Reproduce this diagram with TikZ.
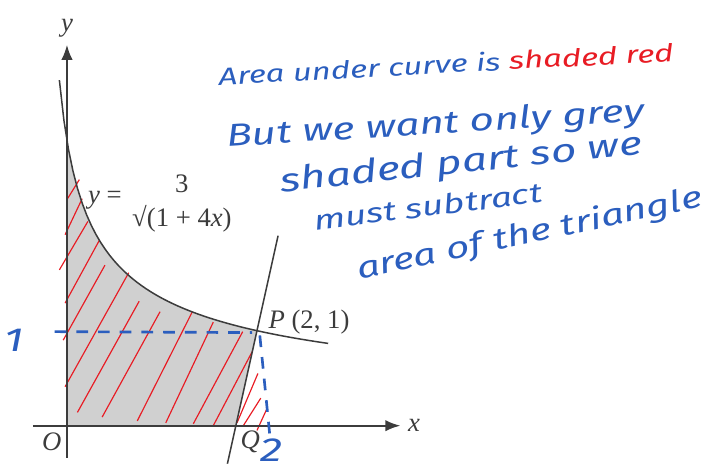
\documentclass[tikz,border=0pt]{standalone}
\usepackage{fontspec}
\setmainfont{Liberation Serif}
\newfontfamily\handfont{Fira Sans}[FakeStretch=1.35]
\usetikzlibrary{arrows.meta, positioning, calc}

\definecolor{handblue}{RGB}{43,94,190}
\definecolor{handred}{RGB}{232,28,36}
\definecolor{axisgray}{RGB}{60,60,60}
\definecolor{areagray}{RGB}{208,208,208}

\begin{document}
\begin{tikzpicture}[
    axis/.style={draw=axisgray, line width=0.6pt, -{Latex[length=4.5pt, width=3.4pt]}},
    curve/.style={draw=axisgray, line width=0.45pt},
    hatch/.style={draw=handred, line width=0.35pt},
    guide/.style={draw=handblue, line width=0.8pt, dash pattern=on 3.5pt off 3pt},
    hand/.style={text=handblue, font=\handfont\itshape, inner sep=0pt},
    label text/.style={font=\fontsize{8}{9}\selectfont, text=axisgray, inner sep=1pt}
]
\useasboundingbox (-0.705,-0.508) rectangle (6.674,4.481);

% ====================
% Punti principali
% ====================
\coordinate (O) at (0,0);
\coordinate (Xs) at (-0.36,0);
\coordinate (Xe) at (3.51,0);
\coordinate (Ys) at (0,-0.34);
\coordinate (Ye) at (0,4.01);
\coordinate (P) at (2,1);
\coordinate (Q) at (1.7778,0);
\coordinate (A) at (0,3);

% Regione grigia
\fill[areagray] (O) -- (A) -- plot[domain=0:2, samples=40] (\x,{3/sqrt(1+4*\x)}) -- (Q) -- cycle;

% Tratteggio rosso
\foreach \a/\b/\c/\d in {0/2.38/0.13/2.59, -0.02/2.01/0.16/2.39, -0.08/1.64/0.22/2.15,
    -0.02/1.29/0.34/1.95, -0.04/0.90/0.40/1.69, -0.02/0.41/0.65/1.61, 0.11/0.14/0.76/1.31,
    0.37/0.09/0.98/1.20, 0.74/0.05/1.32/1.20, 1.04/0.03/1.54/1.09, 1.33/0.02/1.85/0.99,
    1.54/0.00/1.95/0.78, 1.79/0.03/2.01/0.55, 1.85/-0.01/2.04/0.29, 2.00/-0.05/2.11/0.19}
    \draw[hatch] (\a,\b) -- (\c,\d);

% ====================
% Assi, curva e normale
% ====================
\draw[axis] (Xs) -- (Xe);
\draw[axis] (Ys) -- (Ye);
\draw[curve] plot[domain=-0.08:2.75, samples=60] (\x,{3/sqrt(1+4*\x)});
\draw[curve] ($(Q)!-0.4!(P)$) -- ($(Q)!2!(P)$);

% Etichette
\node[label text, right=0.04cm of Xe] (xlab) {\textit{x}};
\node[label text, above=0.04cm of Ye] (ylab) {\textit{y}};
\node[label text] (Olab) at (-0.16,-0.17) {\textit{O}};
\node[label text] (Qlab) at (1.93,-0.17) {\textit{Q}};
\node[label text, anchor=west] (Plab) at ($(P)+(0.08,0.09)$) {\textit{P} (2, 1)};
\node[label text] (eqlhs) at (0.40,2.37) {\textit{y} =};
\node[label text] (eqnum) at (1.21,2.55) {3};
\node[label text] (eqden) at (1.21,2.18) {√(1 + 4\textit{x})};

% ====================
% Note a mano
% ====================
\coordinate (G1) at (-0.13,0.99);
\coordinate (G2) at (1.95,0.98);
\coordinate (G3) at (2.03,0.95);
\coordinate (G4) at (2.14,-0.15);
\draw[guide] (G1) -- (G2);
\draw[guide] (G3) -- (G4);
\node[hand, font=\handfont\itshape\fontsize{10}{11}\selectfont] (one) at (-0.56,0.90) {1};
\node[hand, font=\handfont\itshape\fontsize{10}{11}\selectfont] (two) at (2.15,-0.26) {2};

\node[hand, rotate=3, font=\handfont\itshape\fontsize{7.3}{9}\selectfont] (note1) at (3.99,3.81)
    {Area under curve is \textcolor{handred}{shaded red}};
\node[hand, rotate=3.5, font=\handfont\itshape\fontsize{9.4}{11}\selectfont] (note2) at (3.88,3.16)
    {But we want only grey};
\node[hand, rotate=6, font=\handfont\itshape\fontsize{9.8}{11}\selectfont] (note3) at (4.15,2.75)
    {shaded part so we};
\node[hand, rotate=7, font=\handfont\itshape\fontsize{8.2}{10}\selectfont] (note4) at (3.80,2.31)
    {must subtract};
\node[hand, rotate=12, font=\handfont\itshape\fontsize{9}{10}\selectfont] (note5) at (4.87,2.01)
    {area of the triangle};

\end{tikzpicture}
\end{document}
